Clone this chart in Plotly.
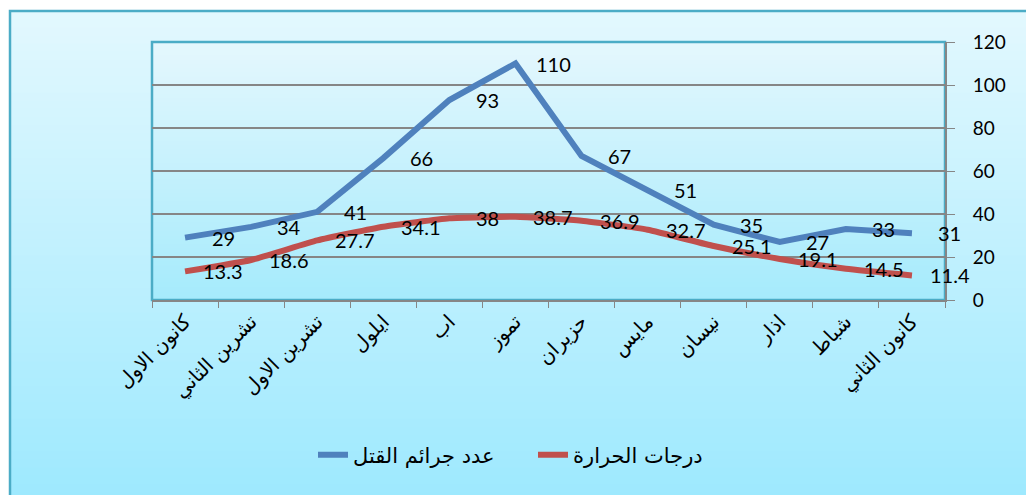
import plotly.graph_objects as go

months = ["كانون الاول", "تشرين الثاني", "تشرين الاول", "ايلول", "اب", "تموز",
          "حزيران", "مايس", "نيسان", "اذار", "شباط", "كانون الثاني"]
murders = [29, 34, 41, 66, 93, 110, 67, 51, 35, 27, 33, 31]
temperature = [13.3, 18.6, 27.7, 34.1, 38, 38.7, 36.9, 32.7, 25.1, 19.1, 14.5, 11.4]
y_ticks = [0, 20, 40, 60, 80, 100, 120]

W, H = 1026, 495
L, R, T, B = 152, 945, 42, 300


def px(x):
    return (x - L) / (R - L)


def py(y):
    return (B - y) / (B - T)


def mix(c1, c2, t):
    return "rgb(%d,%d,%d)" % tuple(round(a + (b - a) * t) for a, b in zip(c1, c2))


def gradient(x0, y0, x1, y1, top, bottom, n=60):
    out = []
    step = (y1 - y0) / n
    for i in range(n):
        out.append(dict(type="rect", xref="paper", yref="paper", layer="below",
                        x0=px(x0), x1=px(x1), y0=py(y0 + i * step), y1=py(y0 + (i + 1) * step + 0.8),
                        line=dict(width=0), fillcolor=mix(top, bottom, i / (n - 1))))
    return out


shapes = []
shapes += gradient(10, 11, 1030, 500, (226, 248, 254), (158, 233, 254))
shapes += gradient(L, T, R, B, (228, 247, 253), (166, 235, 252))
shapes.append(dict(type="rect", xref="paper", yref="paper", layer="below",
                   x0=px(10), x1=px(1030), y0=py(11), y1=py(500),
                   line=dict(color="#4BACC6", width=2.5)))
shapes.append(dict(type="rect", xref="paper", yref="paper", layer="below",
                   x0=0, x1=1, y0=0, y1=1, line=dict(color="#4BACC6", width=2.5)))

fig = go.Figure()
fig.add_trace(go.Scatter(x=months, y=murders, mode="lines", name="عدد جرائم القتل",
                         line=dict(color="#4F81BD", width=6)))
fig.add_trace(go.Scatter(x=months, y=temperature, mode="lines", name="درجات الحرارة",
                         line=dict(color="#C0504D", width=6, shape="spline", smoothing=0.4)))

annotations = []
for series in (murders, temperature):
    for m, v in zip(months, series):
        annotations.append(dict(x=m, y=v, text=str(v), showarrow=False, xshift=38,
                                font=dict(family="Lato", size=20, color="black")))

fig.update_layout(
    width=W, height=H,
    margin=dict(l=L, r=W - R, t=T, b=H - B),
    paper_bgcolor="white",
    plot_bgcolor="rgba(0,0,0,0)",
    shapes=shapes,
    annotations=annotations,
    showlegend=True,
    legend=dict(orientation="h", x=px(313), y=py(455), xanchor="left", yanchor="middle",
                entrywidth=175, entrywidthmode="pixels",
                font=dict(family="DejaVu Sans", size=21, color="black"),
                bgcolor="rgba(0,0,0,0)"),
    xaxis=dict(type="category", range=[-0.5, 11.5], tickson="boundaries", ticks="outside",
               ticklen=6, tickcolor="#868686", showline=True, linecolor="#868686", linewidth=2,
               showgrid=False, tickangle=-45, automargin=False,
               tickfont=dict(family="DejaVu Sans", size=20, color="black")),
    yaxis=dict(side="right", range=[0, 120], tickvals=y_ticks, ticks="outside", ticklen=8,
               tickcolor="#868686", showline=True, linecolor="#868686", linewidth=2,
               showgrid=True, gridcolor="#868686", gridwidth=1.5, zeroline=False,
               ticklabelstandoff=14, automargin=False,
               tickfont=dict(family="Lato", size=19, color="black")),
)

fig.write_html("out.html", config={"displayModeBar": False},
               post_script="document.body.style.margin='0px';")
